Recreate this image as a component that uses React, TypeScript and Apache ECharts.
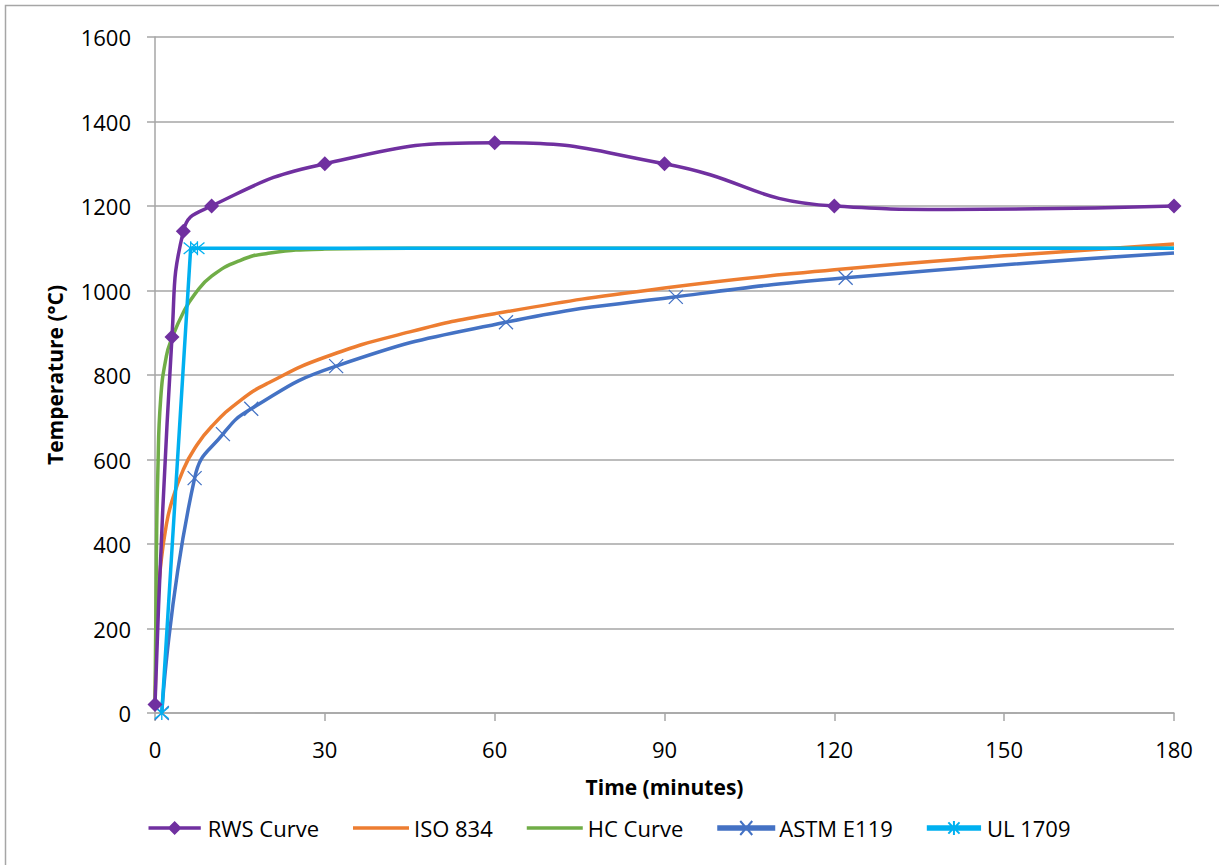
import React, { useEffect, useRef } from "react";
import * as echarts from "echarts";

const rwsData: number[][] = [[0, 20], [3, 890], [5, 1140], [10, 1200], [30, 1300], [60, 1350], [90, 1300], [120, 1200], [140, 1192], [180, 1200]];
const rwsMarked: boolean[] = [true, true, true, true, true, true, true, true, false, true];
const isoData: number[][] = [[0, 20], [0.5, 261], [1, 349], [2, 445], [3, 502], [5, 576], [7, 626], [10, 678], [15, 739], [20, 781], [30, 842], [45, 902], [60, 945], [90, 1006], [120, 1049], [150, 1082], [180, 1110]];
const hcData: number[][] = [[0, 20], [0.25, 374], [0.5, 569], [1, 743], [2, 844], [3, 887], [5, 948], [7, 991], [10, 1034], [15, 1071], [20, 1088], [30, 1098], [45, 1100], [90, 1100], [180, 1100]];
const astmData: number[][] = [[1.2, 0], [7, 556], [12, 660], [17, 720], [32, 821], [62, 925], [92, 985], [122, 1030], [180, 1089]];
const astmMarked: boolean[] = [true, true, true, true, true, true, true, true, false];
const ulData: number[][] = [[1.2, 0], [6.3, 1100], [7.5, 1100], [180, 1100]];
const ulMarked: boolean[] = [true, true, true, false];

const xTicks = { min: 0, max: 180, interval: 30 };
const yTicks = { min: 0, max: 1600, interval: 200 };
const legendNames = ["RWS Curve", "ISO 834", "HC Curve", "ASTM E119", "UL 1709"];

const FONT = "'Open Sans', 'Noto Sans', sans-serif";
const GRID_GRAY = "#a6a6a6";

const X_PATH = "path://M0,0L10,10M10,0L0,10";
const STAR_PATH = "path://M0,0L10,10M10,0L0,10M5,-1L5,11";

const BOX = "M0,0L0,0M56,14L56,14";
const BAR = "M0,5.25L56,5.25L56,8.75L0,8.75Z";
const ICON_LINE = "path://" + BOX + BAR;
const ICON_DIAMOND = "path://" + BOX + BAR + "M28,-0.5L35.5,7L28,14.5L20.5,7Z";
const ICON_X = "path://" + BOX + BAR + "M22,0L34,14M34,0L22,14";
const ICON_STAR = "path://" + BOX + BAR + "M22,1L34,13M34,1L22,13M28,-0.5L28,14.5";

export default function App() {
  const ref = useRef<HTMLDivElement>(null);
  useEffect(() => {
    if (!ref.current) return;
    const chart = echarts.init(ref.current, undefined, { renderer: "svg" });
    const withMarks = (arr: number[][], marks: boolean[]) =>
      arr.map((p, i) => (marks[i] ? { value: p } : { value: p, symbol: "none" }));
    const icons = [ICON_DIAMOND, ICON_LINE, ICON_LINE, ICON_X, ICON_STAR];
    chart.setOption({
      animation: false,
      backgroundColor: "#ffffff",
      textStyle: { fontFamily: FONT },
      graphic: [
        {
          type: "rect",
          shape: { x: 5.5, y: 5.5, width: 1400, height: 1400 },
          style: { fill: "none", stroke: "#a6a6a6", lineWidth: 1.5 },
          silent: true,
        },
      ],
      grid: { left: 155, right: 45, top: 37, bottom: 152 },
      legend: {
        left: "center",
        top: 812,
        itemWidth: 56,
        itemHeight: 14,
        itemGap: 34,
        textStyle: { fontSize: 22, color: "#000", fontFamily: FONT },
        data: legendNames.map((n, i) => ({ name: n, icon: icons[i] })),
      },
      xAxis: {
        type: "value",
        ...xTicks,
        name: "Time (minutes)",
        nameLocation: "middle",
        nameGap: 63,
        nameTextStyle: { fontSize: 21, fontWeight: "bold", color: "#000", fontFamily: FONT },
        axisLine: { show: true, lineStyle: { color: GRID_GRAY, width: 1.5 } },
        axisTick: { show: true, length: 8, lineStyle: { color: GRID_GRAY, width: 1.5 } },
        axisLabel: { fontSize: 22, color: "#000", margin: 25, fontFamily: FONT },
        splitLine: { show: false },
      },
      yAxis: {
        type: "value",
        ...yTicks,
        name: "Temperature (°C)",
        nameLocation: "middle",
        nameGap: 90,
        nameTextStyle: { fontSize: 21, fontWeight: "bold", color: "#000", fontFamily: FONT },
        axisLine: { show: true, lineStyle: { color: GRID_GRAY, width: 1.5 } },
        axisTick: { show: true, length: 8, lineStyle: { color: GRID_GRAY, width: 1.5 } },
        axisLabel: { fontSize: 22, color: "#000", margin: 24, fontFamily: FONT, formatter: (v: number) => String(v) },
        splitLine: { show: true, lineStyle: { color: GRID_GRAY, width: 1.5 } },
      },
      series: [
        {
          name: "ISO 834",
          type: "line",
          data: isoData,
          smooth: 0.5,
          symbol: "none",
          lineStyle: { color: "#ED7D31", width: 3.5 },
          itemStyle: { color: "#ED7D31" },
          z: 2,
        },
        {
          name: "HC Curve",
          type: "line",
          data: hcData,
          smooth: 0.5,
          symbol: "none",
          lineStyle: { color: "#70AD47", width: 3.5 },
          itemStyle: { color: "#70AD47" },
          z: 3,
        },
        {
          name: "ASTM E119",
          type: "line",
          data: withMarks(astmData, astmMarked),
          smooth: 0.5,
          symbol: X_PATH,
          symbolSize: 14,
          lineStyle: { color: "#4472C4", width: 3.5 },
          itemStyle: { color: "#4472C4", borderColor: "#4472C4", borderWidth: 1.3 },
          z: 4,
        },
        {
          name: "UL 1709",
          type: "line",
          data: withMarks(ulData, ulMarked),
          symbol: STAR_PATH,
          symbolSize: 14,
          lineStyle: { color: "#00B0F0", width: 3.5 },
          itemStyle: { color: "#00B0F0", borderColor: "#00B0F0", borderWidth: 1.3 },
          z: 5,
        },
        {
          name: "RWS Curve",
          type: "line",
          data: withMarks(rwsData, rwsMarked),
          smooth: 0.5,
          symbol: "diamond",
          symbolSize: 15,
          lineStyle: { color: "#7030A0", width: 3.5 },
          itemStyle: { color: "#7030A0" },
          z: 6,
        },
      ],
    });
    return () => chart.dispose();
  }, []);
  return (
    <div
      ref={ref}
      style={{ position: "fixed", left: 0, top: 0, width: 1219, height: 865, background: "#fff" }}
    />
  );
}
